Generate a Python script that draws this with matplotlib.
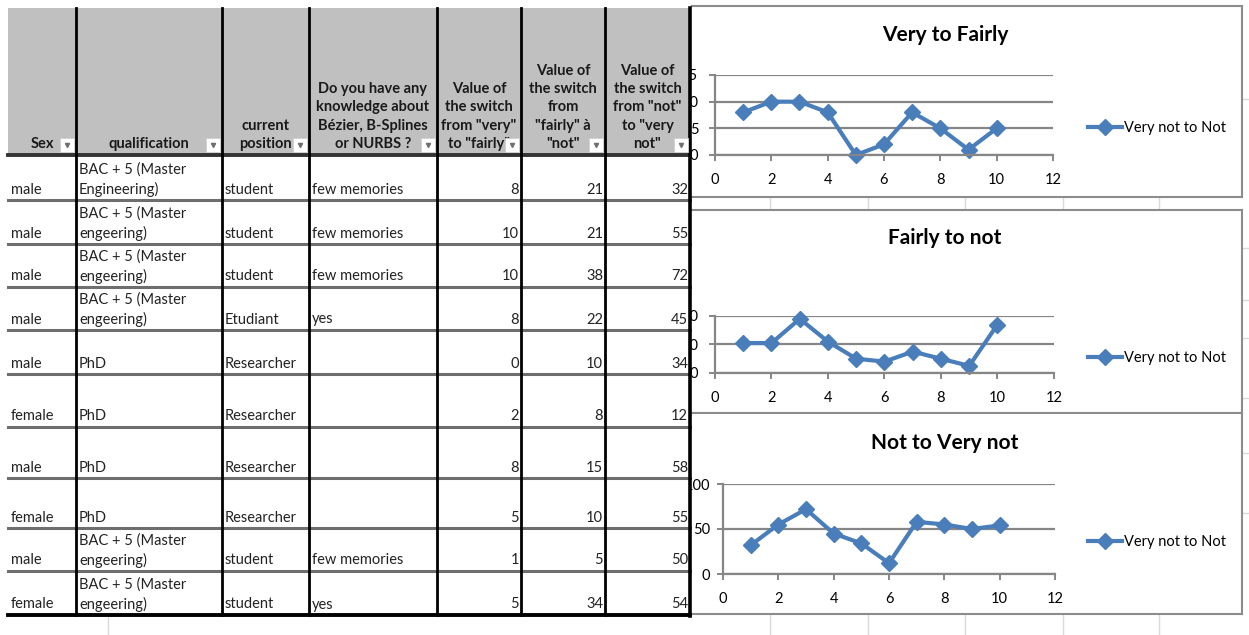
import matplotlib
matplotlib.use("Agg")
import matplotlib.pyplot as plt
from matplotlib.patches import Rectangle

plt.rcParams['font.family'] = ['Lato', 'DejaVu Sans']

# ── Data ──────────────────────────────────────────────────────────────────────
header_labels = [
    "Sex",
    "qualification",
    "current\nposition",
    "Do you have any\nknowledge about\nBézier, B-Splines\nor NURBS ?",
    'Value of\nthe switch\nfrom "very"\nto "fairly"',
    'Value of\nthe switch\nfrom\n"fairly" à\n"not"',
    'Value of\nthe switch\nfrom "not"\nto "very\nnot"',
]
sex = ["male", "male", "male", "male", "male", "female", "male", "female", "male", "female"]
qualification = [
    "BAC + 5 (Master\nEngineering)", "BAC + 5 (Master\nengeering)",
    "BAC + 5 (Master\nengeering)", "BAC + 5 (Master\nengeering)",
    "PhD", "PhD", "PhD", "PhD",
    "BAC + 5 (Master\nengeering)", "BAC + 5 (Master\nengeering)",
]
position = ["student", "student", "student", "Etudiant", "Researcher",
            "Researcher", "Researcher", "Researcher", "student", "student"]
knowledge = ["few memories", "few memories", "few memories", "yes", "",
             "", "", "", "few memories", "yes"]
very_to_fairly = [8, 10, 10, 8, 0, 2, 8, 5, 1, 5]
fairly_to_not = [21, 21, 38, 22, 10, 8, 15, 10, 5, 34]
not_to_very_not = [32, 55, 72, 45, 34, 12, 58, 55, 50, 54]
respondent = list(range(1, 11))

chart_titles = ["Very to Fairly", "Fairly to not", "Not to Very not"]
chart_series = [very_to_fairly, fairly_to_not, not_to_very_not]
chart_yticks = [[0, 5, 10, 15], [0, 20, 40], [0, 50, 100]]
chart_xticks = [0, 2, 4, 6, 8, 10, 12]
legend_label = "Very not to Not"

# ── Layout (pixels) ───────────────────────────────────────────────────────────
W, H = 1249, 635
COL_X = [8, 76, 222, 309, 437, 521, 605, 690]
HEAD_TOP, HEAD_BOT = 8, 155
ROW_BOT = [200, 244, 287, 330, 374, 427, 478, 528, 571, 615]
BOXES = [(676, 6, 1242, 197), (676, 210, 1242, 413), (676, 413, 1242, 614)]
PLOTS = [(715, 75, 1053, 155), (715, 316, 1054, 373), (723, 484, 1055, 574)]
YPAD = [8, 8, 5]
TITLE_Y = [35, 238, 443]
LEGEND_Y = [128, 358, 542]

BLUE = "#4A7EBB"
AXGRAY = "#868686"
SHEET = "#dadada"

fig = plt.figure(figsize=(W / 100, H / 100), dpi=100)
fig.patch.set_facecolor("white")


def px_axes(x0, y0, x1, y1):
    return fig.add_axes([x0 / W, 1 - y1 / H, (x1 - x0) / W, (y1 - y0) / H])


# ── Sheet background + chart frames ──────────────────────────────────────────
bg = px_axes(0, 0, W, H)
bg.set_xlim(0, W); bg.set_ylim(H, 0); bg.axis("off")
bg.set_zorder(0)
for x in [770, 868, 965, 1063, 1159]:
    bg.plot([x, x], [197, 210], color=SHEET, lw=1)
    bg.plot([x, x], [614, 635], color=SHEET, lw=1)
bg.plot([108, 108], [615, 635], color=SHEET, lw=1)
for y in [99, 248, 300, 338, 398, 453, 513]:
    bg.plot([1242, W], [y, y], color=SHEET, lw=1)
for x0, y0, x1, y1 in BOXES:
    bg.add_patch(Rectangle((x0, y0), x1 - x0, y1 - y0, fc="white",
                           ec="#8c8c8c", lw=1.5, zorder=3))

# ── Charts ────────────────────────────────────────────────────────────────────
for i in range(3):
    x0, y0, x1, y1 = PLOTS[i]
    ax = px_axes(x0, y0, x1, y1)
    ax.set_zorder(1)
    ax.set_facecolor("none")
    ticks = chart_yticks[i]
    ax.set_xlim(0, 12)
    ax.set_ylim(0, ticks[-1])
    ax.set_xticks(chart_xticks)
    ax.set_yticks(ticks)
    ax.yaxis.grid(True, color=AXGRAY, lw=1.6)
    ax.set_axisbelow(True)
    for s in ["top", "right"]:
        ax.spines[s].set_visible(False)
    for s in ["left", "bottom"]:
        ax.spines[s].set_color(AXGRAY)
        ax.spines[s].set_linewidth(1.6)
    ax.tick_params(axis="x", length=4, width=1.4, color=AXGRAY, pad=9,
                   labelsize=10.5, labelcolor="black")
    ax.tick_params(axis="y", length=4, width=1.4, color=AXGRAY, pad=YPAD[i],
                   labelsize=10.5, labelcolor="black")
    ax.plot(respondent, chart_series[i], color=BLUE, lw=3, marker="D",
            ms=8.5, mfc=BLUE, mec=BLUE, clip_on=False, label=legend_label)
    ax.legend(loc="center left", bbox_to_anchor=(1088 / W, 1 - LEGEND_Y[i] / H),
              bbox_transform=fig.transFigure, frameon=False, fontsize=10.5,
              handlelength=2.3, handletextpad=0.15, borderpad=0, borderaxespad=0)
    bg.text(945, TITLE_Y[i], chart_titles[i], ha="center", va="center",
            fontsize=15, fontweight="bold", zorder=5)

# ── Table ─────────────────────────────────────────────────────────────────────
tb = px_axes(0, 0, W, H)
tb.set_xlim(0, W); tb.set_ylim(H, 0); tb.axis("off")
tb.set_zorder(2)
tb.add_patch(Rectangle((0, 0), COL_X[-1] + 1, ROW_BOT[-1], fc="white", ec="none"))
tb.add_patch(Rectangle((COL_X[0], HEAD_TOP), COL_X[-1] - COL_X[0],
                       HEAD_BOT - HEAD_TOP, fc="#c0c0c0", ec="none"))


def cell_text(x, y, s, col, top, bot, **kw):
    t = tb.text(x, y, s, **kw)
    clip = Rectangle((COL_X[col] + 1, top), COL_X[col + 1] - COL_X[col] - 2,
                     bot - top, transform=tb.transData)
    t.set_clip_path(clip)
    return t


# header
for c, lab in enumerate(header_labels):
    lines = lab.split("\n")
    cx = (COL_X[c] + COL_X[c + 1]) / 2
    for k, line in enumerate(lines):
        y = 144 - 18.3 * (len(lines) - 1 - k)
        cell_text(cx, y, line, c, HEAD_TOP, HEAD_BOT, ha="center", va="center",
                  fontsize=10.5, fontweight="bold", color="#1a1a1a")
    bx = COL_X[c + 1] - 16
    tb.add_patch(Rectangle((bx, 138), 14, 14, fc="white", ec="#d0d0d0", lw=0.6,
                           zorder=4))
    tb.plot(bx + 7, 145, marker="v", ms=3, color="#707070", zorder=5)

# rows
row_top = [HEAD_BOT] + ROW_BOT[:-1]
text_cols = [sex, qualification, position, knowledge]
num_cols = [very_to_fairly, fairly_to_not, not_to_very_not]
for r in range(len(sex)):
    top, bot = row_top[r], ROW_BOT[r]
    for c, col in enumerate(text_cols):
        lines = col[r].split("\n") if col[r] else []
        for k, line in enumerate(lines):
            y = bot - 10.5 - 20 * (len(lines) - 1 - k)
            cell_text(COL_X[c] + 3, y, line, c, top, bot, ha="left", va="center",
                      fontsize=10.5, color="#222222")
    for j, col in enumerate(num_cols):
        c = 4 + j
        cell_text(COL_X[c + 1] - 2, bot - 10.5, str(col[r]), c, top, bot,
                  ha="right", va="center", fontsize=10.5, color="#222222")

# grid lines
for y in ROW_BOT[:-1]:
    tb.plot([COL_X[0], COL_X[-1]], [y, y], color="#6e6e6e", lw=2.2)
tb.plot([COL_X[0], COL_X[-1]], [HEAD_BOT, HEAD_BOT], color="#333333", lw=2.8)
for x in COL_X[1:-1]:
    tb.plot([x, x], [HEAD_TOP, ROW_BOT[-1]], color="black", lw=2)
tb.plot([COL_X[-1], COL_X[-1]], [HEAD_TOP, ROW_BOT[-1] + 1], color="black", lw=2.6)
tb.plot([COL_X[0], COL_X[-1]], [ROW_BOT[-1], ROW_BOT[-1]], color="black", lw=2.8)

fig.savefig("out.png", dpi=100)
